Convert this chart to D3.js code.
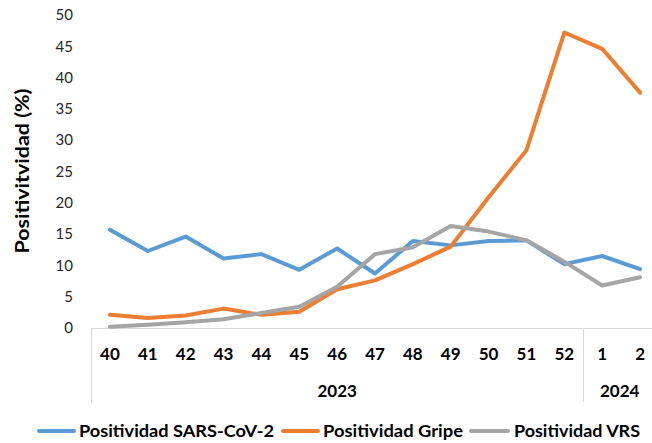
<!DOCTYPE html>
<html><head><meta charset="utf-8">
<script src="https://cdn.jsdelivr.net/npm/d3@7"></script>
<style>html,body{margin:0;padding:0;background:#fff;}svg{display:block;font-family:Lato,"Open Sans",sans-serif;}</style>
</head><body>
<svg id="c" width="652" height="443"></svg>
<script>
const weeks = ["40","41","42","43","44","45","46","47","48","49","50","51","52","1","2"];
const yearGroups = [{year:"2023", count:13},{year:"2024", count:2}];
const sars  = [15.7,12.3,14.6,11.1,11.8,9.3,12.7,8.7,13.9,13.2,13.9,14.0,10.2,11.5,9.4];
const gripe = [2.1,1.6,2.0,3.1,2.1,2.6,6.2,7.6,10.2,13.0,20.9,28.4,47.2,44.6,37.6];
const vrs   = [0.2,0.5,0.9,1.4,2.4,3.4,6.6,11.8,12.9,16.3,15.4,14.0,10.6,6.8,8.1];
const seriesNames = ["Positividad SARS-CoV-2","Positividad Gripe","Positividad VRS"];
const colors = ["#5B9BD5","#ED7D31","#A5A5A5"];
const yTicks = [0,5,10,15,20,25,30,35,40,45,50];
const yTitle = "Positivitvidad (%)";

const svg = d3.select("#c");
const x = d3.scaleBand().domain(weeks.map((w,i)=>i)).range([91,659]).paddingInner(0).paddingOuter(0);
const y = d3.scaleLinear().domain([0,50]).range([328,15]);
const cx = i => x(i) + x.bandwidth()/2;

// y tick labels
svg.append("g").selectAll("text").data(yTicks).join("text")
  .attr("x",73).attr("y",d=>y(d)).attr("dy","0.35em").attr("text-anchor","end")
  .attr("font-size",15).attr("fill","#262626").text(d=>d);

// y title
svg.append("text").attr("transform","translate(23,171) rotate(-90)")
  .attr("text-anchor","middle").attr("dy","0.35em").attr("font-size",18).attr("font-weight","bold")
  .attr("fill","#000").attr("textLength",165).attr("lengthAdjust","spacingAndGlyphs").text(yTitle);

// axis lines
const axisColor = "#D9D9D9";
svg.append("line").attr("x1",91).attr("x2",659).attr("y1",y(0)+0.5).attr("y2",y(0)+0.5).attr("stroke",axisColor).attr("stroke-width",1);
let acc = 0;
const bounds = [0];
yearGroups.forEach(g=>{acc+=g.count; bounds.push(acc);});
bounds.forEach(b=>{
  const bx = b < weeks.length ? x(b) : x(weeks.length-1)+x.bandwidth();
  svg.append("line").attr("x1",Math.round(bx)+0.5).attr("x2",Math.round(bx)+0.5).attr("y1",y(0)).attr("y2",402).attr("stroke",axisColor).attr("stroke-width",1);
});

// week labels
svg.append("g").selectAll("text").data(weeks).join("text")
  .attr("x",(d,i)=>cx(i)).attr("y",354).attr("dy","0.35em").attr("text-anchor","middle")
  .attr("font-size",17).attr("font-weight","bold").attr("fill","#000").text(d=>d);

// year labels
acc = 0;
yearGroups.forEach(g=>{
  const x0 = x(acc), x1 = x(acc+g.count-1)+x.bandwidth();
  let mid = (x0+x1)/2;
  if (x1 > 652) mid = (x0 + 652)/2 + 2;
  svg.append("text").attr("x",mid).attr("y",391).attr("dy","0.35em").attr("text-anchor","middle")
    .attr("font-size",17).attr("font-weight","bold").attr("fill","#000").text(g.year);
  acc += g.count;
});

// lines
const line = d3.line().x((d,i)=>cx(i)).y(d=>y(d));
[sars,gripe,vrs].forEach((s,k)=>{
  svg.append("path").datum(s).attr("d",line).attr("fill","none")
    .attr("stroke",colors[k]).attr("stroke-width",4)
    .attr("stroke-linejoin","round").attr("stroke-linecap","round");
});

// legend
const leg = [
  {lx1:37,lx2:76,tx:79,tw:195},
  {lx1:281,lx2:320,tx:323,tw:140},
  {lx1:469,lx2:510,tx:514,tw:126}
];
leg.forEach((l,k)=>{
  svg.append("line").attr("x1",l.lx1+2).attr("x2",l.lx2-2).attr("y1",431).attr("y2",431)
    .attr("stroke",colors[k]).attr("stroke-width",4).attr("stroke-linecap","round");
  svg.append("text").attr("x",l.tx).attr("y",431).attr("dy","0.35em")
    .attr("font-size",17).attr("font-weight","bold").attr("fill","#000")
    .attr("textLength",l.tw).attr("lengthAdjust","spacingAndGlyphs").text(seriesNames[k]);
});
</script>
</body></html>
